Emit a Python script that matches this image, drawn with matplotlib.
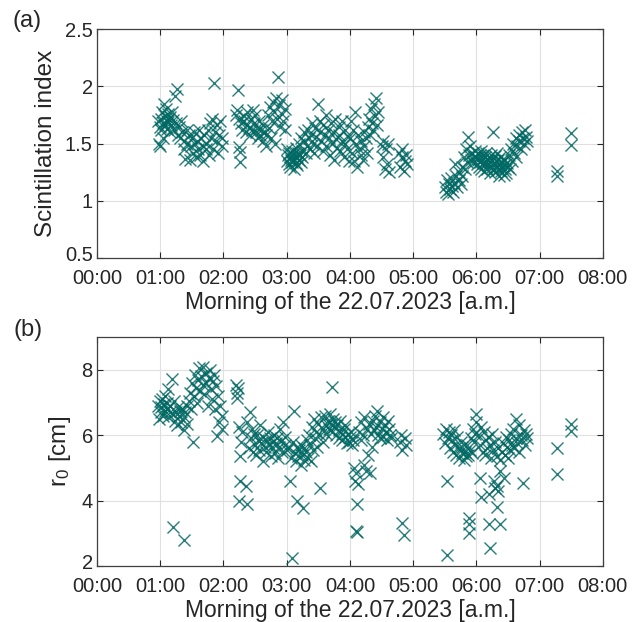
import matplotlib
matplotlib.use("Agg")
import matplotlib.pyplot as plt
import matplotlib.transforms as mtransforms
import numpy as np

plt.rcParams['font.family'] = ['Liberation Sans', 'DejaVu Sans']

# ---- scintillation index, time in hours after midnight ----
si_t1 = [0.97, 0.98, 0.99, 1.00, 1.01, 1.02, 1.03, 1.04, 1.05, 1.06,
         1.07, 1.08, 1.09, 1.10, 1.11, 1.12, 1.13, 1.14, 1.15, 1.16,
         1.17, 1.18, 1.20, 1.22, 1.23, 1.25, 1.27, 1.28, 1.30, 1.32,
         1.33, 1.35, 1.37, 1.38, 1.40, 1.42, 1.43, 1.45, 1.47, 1.48,
         1.50, 1.52, 1.53, 1.55, 1.57, 1.58, 1.60, 1.62, 1.63, 1.65,
         1.67, 1.68, 1.70, 1.72, 1.73, 1.75, 1.77, 1.78, 1.80, 1.82,
         1.83, 1.85, 1.87, 1.88, 1.90, 1.92, 1.93, 1.95, 1.97, 1.98]
si_v1 = [1.70, 1.50, 1.65, 1.48, 1.72, 1.62, 1.78, 1.55, 1.68, 1.85,
         1.74, 1.66, 1.80, 1.70, 1.63, 1.76, 1.69, 1.72, 1.60, 1.73,
         1.66, 1.78, 1.71, 1.62, 1.92, 1.68, 1.98, 1.58, 1.65, 1.55,
         1.70, 1.60, 1.45, 1.52, 1.37, 1.62, 1.50, 1.58, 1.36, 1.48,
         1.55, 1.42, 1.60, 1.50, 1.38, 1.52, 1.45, 1.62, 1.40, 1.55,
         1.48, 1.35, 1.58, 1.45, 1.50, 1.62, 1.40, 1.68, 1.55, 1.72,
         1.45, 2.03, 1.60, 1.52, 1.66, 1.42, 1.58, 1.70, 1.48, 1.55]

si_t2 = [2.20, 2.22, 2.23, 2.24, 2.25, 2.26, 2.27, 2.28, 2.30, 2.32,
         2.33, 2.35, 2.37, 2.38, 2.40, 2.42, 2.43, 2.45, 2.47, 2.48,
         2.50, 2.52, 2.53, 2.55, 2.57, 2.58, 2.60, 2.62, 2.63, 2.65,
         2.67, 2.68, 2.70, 2.72, 2.73, 2.75, 2.77, 2.78, 2.80, 2.82,
         2.83, 2.85, 2.87, 2.88, 2.90, 2.92, 2.93, 2.95, 2.97, 2.98]
si_v2 = [1.75, 1.79, 1.97, 1.47, 1.72, 1.34, 1.43, 1.68, 1.62, 1.74,
         1.70, 1.60, 1.66, 1.78, 1.64, 1.58, 1.72, 1.62, 1.79, 1.68,
         1.75, 1.60, 1.64, 1.55, 1.70, 1.58, 1.62, 1.52, 1.66, 1.60,
         1.48, 1.58, 1.75, 1.64, 1.82, 1.55, 1.70, 1.86, 1.78, 1.50,
         1.90, 1.72, 2.08, 1.84, 1.65, 1.88, 1.76, 1.70, 1.80, 1.62]

si_t3 = [3.00, 3.01, 3.02, 3.03, 3.04, 3.05, 3.06, 3.07, 3.08, 3.09,
         3.10, 3.11, 3.12, 3.13, 3.14, 3.15, 3.16, 3.17, 3.18, 3.19,
         3.20, 3.21, 3.22, 3.23, 3.24, 3.25, 3.27, 3.28, 3.30, 3.32,
         3.33, 3.35, 3.37, 3.38, 3.40, 3.42, 3.43, 3.45, 3.47, 3.48,
         3.50, 3.52, 3.53, 3.55, 3.57, 3.58, 3.60, 3.62, 3.63, 3.65,
         3.67, 3.68, 3.70, 3.72, 3.73, 3.75, 3.77, 3.78, 3.80, 3.82,
         3.83, 3.85, 3.87, 3.88, 3.90, 3.92, 3.93, 3.95, 3.97, 3.98]
si_v3 = [1.45, 1.35, 1.40, 1.32, 1.42, 1.38, 1.30, 1.36, 1.44, 1.34,
         1.40, 1.28, 1.37, 1.43, 1.33, 1.46, 1.38, 1.31, 1.42, 1.36,
         1.50, 1.40, 1.34, 1.55, 1.44, 1.38, 1.52, 1.60, 1.42, 1.48,
         1.62, 1.55, 1.45, 1.58, 1.68, 1.50, 1.42, 1.64, 1.56, 1.48,
         1.85, 1.60, 1.70, 1.52, 1.44, 1.66, 1.58, 1.75, 1.48, 1.62,
         1.55, 1.40, 1.68, 1.50, 1.60, 1.36, 1.72, 1.54, 1.46, 1.65,
         1.58, 1.44, 1.70, 1.52, 1.38, 1.62, 1.50, 1.45, 1.56, 1.35]

si_t4 = [4.00, 4.02, 4.03, 4.05, 4.07, 4.08, 4.10, 4.12, 4.13, 4.15,
         4.17, 4.18, 4.20, 4.22, 4.23, 4.25, 4.27, 4.28, 4.30, 4.32,
         4.33, 4.35, 4.37, 4.38, 4.40, 4.42, 4.43, 4.45,
         4.50, 4.52, 4.53, 4.55, 4.57, 4.58, 4.60, 4.62,
         4.78, 4.80, 4.82, 4.83, 4.85, 4.87, 4.88, 4.90]
si_v4 = [1.55, 1.70, 1.42, 1.62, 1.35, 1.78, 1.50, 1.30, 1.58, 1.45,
         1.40, 1.52, 1.36, 1.60, 1.48, 1.55, 1.42, 1.65, 1.72, 1.58,
         1.80, 1.68, 1.62, 1.85, 1.74, 1.90, 1.66, 1.78,
         1.48, 1.38, 1.52, 1.28, 1.45, 1.32, 1.50, 1.25,
         1.42, 1.30, 1.38, 1.45, 1.26, 1.35, 1.40, 1.32]

si_t5 = [5.50, 5.52, 5.53, 5.55, 5.57, 5.58, 5.60, 5.62, 5.63, 5.65,
         5.67, 5.68, 5.70, 5.72, 5.73, 5.75, 5.77, 5.78, 5.80, 5.82,
         5.83, 5.85, 5.87, 5.88, 5.90, 5.92, 5.93, 5.95, 5.97, 5.98]
si_v5 = [1.12, 1.08, 1.18, 1.06, 1.15, 1.10, 1.20, 1.13, 1.08, 1.16,
         1.32, 1.22, 1.12, 1.18, 1.25, 1.15, 1.30, 1.22, 1.38, 1.28,
         1.45, 1.34, 1.56, 1.40, 1.48, 1.36, 1.42, 1.33, 1.38, 1.44]

si_t6 = [6.00, 6.01, 6.02, 6.03, 6.04, 6.05, 6.06, 6.07, 6.08, 6.09,
         6.10, 6.11, 6.12, 6.13, 6.14, 6.15, 6.16, 6.17, 6.18, 6.19,
         6.20, 6.21, 6.22, 6.23, 6.24, 6.25, 6.26, 6.27, 6.28, 6.29,
         6.30, 6.31, 6.32, 6.33, 6.34, 6.35, 6.36, 6.37, 6.38, 6.39,
         6.40, 6.41, 6.42, 6.43, 6.44, 6.45, 6.46, 6.47, 6.48, 6.50,
         6.52, 6.53, 6.55, 6.57, 6.58, 6.60, 6.62, 6.63, 6.65, 6.67,
         6.68, 6.70, 6.72, 6.73, 6.75, 6.77, 6.78, 6.80,
         7.27, 7.28, 7.49, 7.50]
si_v6 = [1.38, 1.32, 1.42, 1.36, 1.30, 1.40, 1.34, 1.44, 1.28, 1.36,
         1.33, 1.40, 1.26, 1.38, 1.32, 1.35, 1.42, 1.28, 1.36, 1.31,
         1.38, 1.24, 1.34, 1.40, 1.30, 1.36, 1.60, 1.28, 1.33, 1.39,
         1.25, 1.35, 1.30, 1.42, 1.27, 1.36, 1.22, 1.32, 1.38, 1.26,
         1.34, 1.29, 1.37, 1.23, 1.31, 1.28, 1.36, 1.24, 1.33, 1.30,
         1.40, 1.28, 1.45, 1.35, 1.50, 1.42, 1.55, 1.38, 1.48, 1.58,
         1.52, 1.45, 1.60, 1.55, 1.50, 1.62, 1.56, 1.52,
         1.26, 1.22, 1.59, 1.49]

# ---- Fried parameter r0 [cm] ----
r0_t1 = [0.97, 0.98, 1.00, 1.01, 1.02, 1.03, 1.05, 1.06, 1.07, 1.08,
         1.10, 1.11, 1.12, 1.13, 1.15, 1.16, 1.18, 1.20, 1.20, 1.22,
         1.23, 1.25, 1.27, 1.28, 1.30, 1.32, 1.33, 1.35, 1.37, 1.37,
         1.38, 1.40, 1.42, 1.43, 1.45, 1.47, 1.48, 1.50, 1.52, 1.53,
         1.55, 1.57, 1.58, 1.60, 1.62, 1.63, 1.65, 1.67, 1.68, 1.70,
         1.72, 1.73, 1.75, 1.77, 1.78, 1.80, 1.82, 1.83, 1.85, 1.87,
         1.88, 1.90, 1.92, 1.93, 1.95, 1.97, 1.98]
r0_v1 = [6.90, 6.50, 7.05, 6.70, 6.85, 7.10, 6.60, 6.95, 6.75, 7.20,
         6.80, 7.00, 6.55, 7.40, 6.90, 6.70, 7.72, 3.20, 6.65, 7.05,
         6.45, 6.70, 6.30, 6.85, 6.60, 6.75, 6.40, 6.80, 2.80, 6.15,
         6.55, 6.70, 6.90, 6.35, 7.05, 7.30, 6.80, 7.60, 5.78, 7.20,
         7.85, 7.45, 7.00, 7.70, 8.05, 7.35, 7.80, 7.55, 8.10, 7.25,
         7.90, 7.60, 6.90, 7.75, 8.00, 7.40, 7.10, 7.65, 7.85, 6.80,
         7.50, 5.98, 7.20, 6.40, 6.90, 6.20, 6.60]

r0_t2 = [2.20, 2.21, 2.22, 2.23, 2.24, 2.25, 2.26, 2.27, 2.28, 2.30,
         2.35, 2.37, 2.38, 2.40, 2.42, 2.43, 2.45, 2.47, 2.48, 2.50,
         2.52, 2.53, 2.55, 2.57, 2.58, 2.60, 2.62, 2.63, 2.65, 2.67,
         2.68, 2.70, 2.72, 2.73, 2.75, 2.77, 2.78, 2.80, 2.82, 2.83,
         2.85, 2.87, 2.88, 2.90, 2.92, 2.93, 2.95, 2.97, 2.98, 3.00]
r0_v2 = [7.55, 7.30, 7.15, 7.45, 4.00, 6.24, 4.60, 5.37, 5.80, 6.10,
         4.45, 3.89, 6.40, 5.60, 6.70, 5.90, 6.20, 5.50, 6.05, 5.70,
         5.40, 6.00, 5.85, 5.55, 6.30, 5.75, 5.95, 5.20, 5.65, 5.85,
         5.50, 6.10, 5.70, 5.90, 5.35, 5.80, 5.60, 6.00, 5.45, 5.75,
         5.90, 5.30, 5.65, 6.20, 5.85, 5.50, 6.40, 5.70, 5.95, 5.55]

r0_t3 = [3.02, 3.05, 3.07, 3.08, 3.10, 3.12, 3.13, 3.15, 3.16, 3.17,
         3.18, 3.20, 3.22, 3.23, 3.25, 3.26, 3.27, 3.28, 3.30, 3.32,
         3.33, 3.35, 3.37, 3.38, 3.40, 3.42, 3.43, 3.45, 3.47, 3.48,
         3.50, 3.52, 3.53, 3.55, 3.57, 3.58, 3.60, 3.62, 3.63, 3.65,
         3.67, 3.68, 3.70, 3.71, 3.72, 3.73, 3.75, 3.77, 3.78, 3.80,
         3.82, 3.83, 3.85, 3.87, 3.88, 3.90, 3.92, 3.93, 3.95, 3.97,
         3.98, 4.00, 4.02, 4.03, 4.05]
r0_v3 = [5.60, 4.60, 5.30, 2.25, 5.80, 6.75, 5.45, 5.20, 4.00, 5.65,
         5.35, 5.55, 5.10, 5.70, 5.40, 3.78, 5.25, 5.60, 5.50, 5.85,
         5.30, 6.00, 5.70, 5.20, 6.25, 5.55, 6.50, 5.90, 6.10, 5.65,
         6.35, 6.00, 4.40, 6.55, 6.20, 5.80, 6.60, 6.30, 6.05, 6.45,
         6.20, 6.65, 6.35, 7.49, 6.10, 6.50, 6.25, 6.40, 6.00, 6.30,
         6.15, 5.90, 6.45, 6.05, 5.85, 6.20, 5.95, 6.30, 5.75, 6.05,
         5.80, 5.95, 6.10, 5.70, 5.85]

r0_t4 = [4.07, 4.08, 4.09, 4.10, 4.11, 4.12, 4.13, 4.15, 4.17, 4.18,
         4.20, 4.22, 4.23, 4.25, 4.27, 4.28, 4.30, 4.32, 4.33, 4.35,
         4.37, 4.38, 4.40, 4.42, 4.43, 4.45, 4.47, 4.48, 4.50, 4.52,
         4.53, 4.55, 4.57, 4.58, 4.60, 4.62, 4.63, 4.65,
         4.80, 4.81, 4.82, 4.83, 4.85, 4.87, 4.88]
r0_v4 = [5.00, 4.60, 3.07, 4.85, 3.89, 3.05, 4.50, 6.10, 5.85, 6.40,
         6.00, 5.10, 6.55, 4.90, 6.20, 5.40, 6.35, 4.85, 6.05, 5.65,
         6.45, 6.15, 6.60, 6.25, 6.75, 6.00, 6.40, 5.90, 6.20, 6.55,
         5.95, 6.30, 6.10, 5.85, 6.45, 6.20, 6.00, 5.90,
         5.80, 6.00, 3.32, 5.55, 2.96, 5.90, 5.70]

r0_t5 = [5.48, 5.50, 5.52, 5.53, 5.53, 5.55, 5.57, 5.58, 5.60, 5.62,
         5.63, 5.65, 5.67, 5.68, 5.70, 5.72, 5.73, 5.75, 5.77, 5.78,
         5.80, 5.82, 5.83, 5.85, 5.87, 5.88, 5.88, 5.89, 5.90, 5.92,
         5.93, 5.95, 5.97, 5.98, 6.00, 6.00]
r0_v5 = [6.05, 5.75, 6.20, 4.60, 2.35, 5.90, 6.10, 5.60, 6.00, 5.85,
         5.50, 6.15, 5.70, 5.40, 5.95, 5.60, 5.30, 5.80, 5.45, 5.65,
         5.25, 5.50, 5.35, 5.70, 5.40, 3.48, 3.00, 3.30, 5.55, 5.90,
         5.45, 6.20, 5.80, 6.05, 6.65, 6.40]

r0_t6 = [6.03, 6.05, 6.06, 6.07, 6.08, 6.10, 6.12, 6.13, 6.15, 6.17,
         6.18, 6.20, 6.20, 6.21, 6.22, 6.23, 6.25, 6.27, 6.28, 6.30,
         6.30, 6.32, 6.33, 6.33, 6.35, 6.35, 6.37, 6.38, 6.38, 6.40,
         6.42, 6.43, 6.45, 6.47, 6.48, 6.50, 6.52, 6.53, 6.55, 6.57,
         6.58, 6.60, 6.62, 6.63, 6.65, 6.67, 6.68, 6.70, 6.72, 6.73,
         6.75, 6.77, 6.78, 6.80,
         7.28, 7.28, 7.49, 7.50]
r0_v6 = [6.00, 4.70, 5.70, 4.10, 6.25, 5.50, 6.10, 5.40, 5.85, 5.60,
         5.95, 4.20, 3.27, 2.55, 5.70, 5.30, 6.05, 5.55, 4.60, 5.80,
         4.40, 5.35, 3.80, 4.45, 5.60, 4.30, 5.25, 3.27, 4.90, 5.50,
         5.75, 4.70, 5.40, 5.95, 5.65, 5.30, 5.85, 5.55, 6.05, 5.70,
         6.20, 5.60, 5.90, 6.50, 5.75, 6.30, 5.50, 6.00, 5.85, 4.55,
         6.15, 5.70, 6.05, 5.90,
         5.62, 4.80, 6.34, 6.14]

hour_ticks = [0, 1, 2, 3, 4, 5, 6, 7, 8]
hour_labels = ['00:00', '01:00', '02:00', '03:00', '04:00',
               '05:00', '06:00', '07:00', '08:00']
xlabel = 'Morning of the 22.07.2023 [a.m.]'

si_t = np.concatenate([si_t1, si_t2, si_t3, si_t4, si_t5, si_t6])
si_v = np.concatenate([si_v1, si_v2, si_v3, si_v4, si_v5, si_v6])
r0_t = np.concatenate([r0_t1, r0_t2, r0_t3, r0_t4, r0_t5, r0_t6])
r0_v = np.concatenate([r0_v1, r0_v2, r0_v3, r0_v4, r0_v5, r0_v6])

col = '#006863'
txt = '#262626'
fig = plt.figure(figsize=(6.42, 6.22), dpi=100)
ax1 = fig.add_axes([0.151, 0.585, 0.788, 0.368])
ax2 = fig.add_axes([0.151, 0.090, 0.788, 0.368])


def style(ax):
    ax.set_xlim(0, 8)
    ax.set_xticks(hour_ticks)
    ax.set_xticklabels(hour_labels)
    ax.grid(True, color='#e0e0e0', linewidth=0.8)
    ax.set_axisbelow(True)
    ax.tick_params(direction='in', top=True, right=True, length=4,
                   width=0.8, labelsize=14.5, colors=txt, pad=3)
    ax.tick_params(axis='x', pad=8)
    for s in ax.spines.values():
        s.set_color('#404040')
        s.set_linewidth(0.9)
    ax.set_xlabel(xlabel, fontsize=16.5, color=txt, labelpad=2)


def lift_bottom_label(ax):
    # lowest y label sits in the corner next to 00:00, nudge it up a bit
    fig.canvas.draw()
    lab = ax.get_yticklabels()[0]
    lab.set_transform(lab.get_transform() +
                      mtransforms.ScaledTranslation(0, 3 / 72, fig.dpi_scale_trans))


ax1.plot(si_t, si_v, 'x', color=col, markersize=8.5, mew=1.0, alpha=0.85)
ax1.set_ylim(0.5, 2.5)
ax1.set_yticks([0.5, 1, 1.5, 2, 2.5])
ax1.set_yticklabels(['0.5', '1', '1.5', '2', '2.5'])
style(ax1)
ax1.set_ylabel('Scintillation index', fontsize=17.5, color=txt, labelpad=6)

ax2.plot(r0_t, r0_v, 'x', color=col, markersize=8.5, mew=1.0, alpha=0.85)
ax2.set_ylim(2, 9)
ax2.set_yticks([2, 4, 6, 8])
style(ax2)
ax2.set_ylabel(r'$\mathregular{r_0}$ [cm]', fontsize=17.5, color=txt, labelpad=6)

lift_bottom_label(ax1)
lift_bottom_label(ax2)

fig.text(0.019, 0.984, '(a)', fontsize=17, va='top', ha='left', color=txt)
fig.text(0.021, 0.487, '(b)', fontsize=17, va='top', ha='left', color=txt)

fig.savefig('out.png', dpi=100)
